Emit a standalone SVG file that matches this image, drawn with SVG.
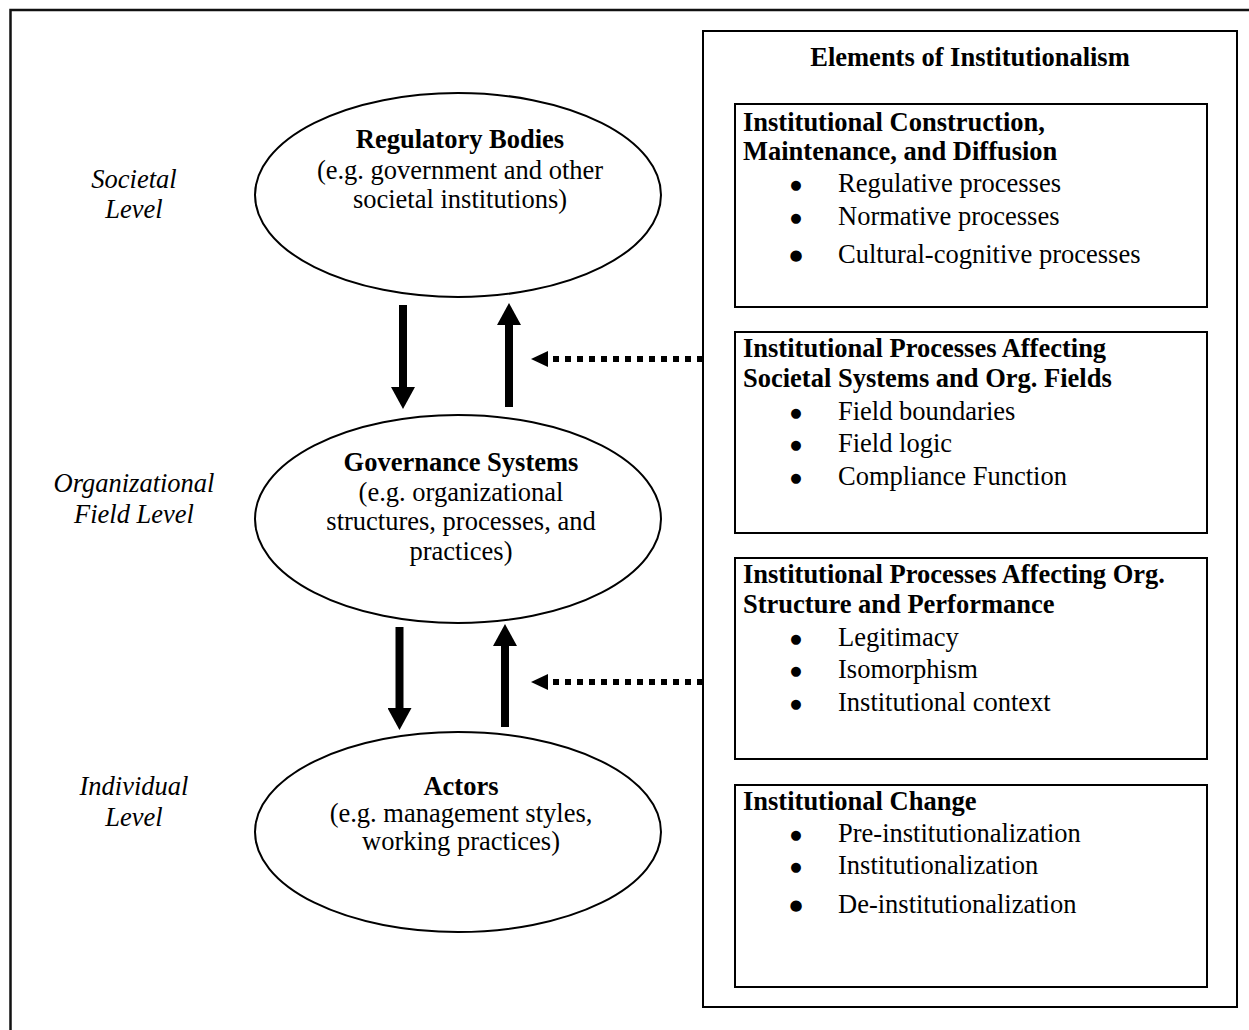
<svg xmlns="http://www.w3.org/2000/svg" width="1249" height="1030" viewBox="0 0 1249 1030">
<style>
text{font-family:"Liberation Serif","Times New Roman",serif;font-size:26.5px;fill:#000}
.b{font-weight:bold}
.i{font-style:italic}
.c{text-anchor:middle}
.bu{font-family:"DejaVu Sans",sans-serif;font-size:13px;text-anchor:middle}
.bu2{font-family:"DejaVu Sans",sans-serif;font-size:15px;text-anchor:middle}
.frame{fill:none;stroke:#111;stroke-width:2.5}
.box{fill:none;stroke:#000;stroke-width:2}
.ell{fill:#fff;stroke:#000;stroke-width:2}
.solid{stroke:#000;stroke-width:8;fill:none}
.dot{stroke:#000;stroke-width:6;stroke-dasharray:6 6;fill:none}
</style>
<defs>
<marker id="ah" markerUnits="userSpaceOnUse" viewBox="0 0 22 24" markerWidth="22" markerHeight="24" refX="0" refY="12" orient="auto"><path d="M0,0 L22,12 L0,24 z" fill="#000"/></marker>
<marker id="ahd" markerUnits="userSpaceOnUse" viewBox="0 0 17 16" markerWidth="17" markerHeight="16" refX="0" refY="8" orient="auto"><path d="M0,0 L17,8 L0,16 z" fill="#000"/></marker>
</defs>
<rect width="1249" height="1030" fill="#fff"/>
<rect class="frame" x="10.5" y="10" width="1300" height="1100"/>

<g id="levels">
<text class="i c" x="134" y="188">Societal</text>
<text class="i c" x="134" y="218">Level</text>
<text class="i c" x="134" y="492">Organizational</text>
<text class="i c" x="134" y="523">Field Level</text>
<text class="i c" x="134" y="795">Individual</text>
<text class="i c" x="134" y="826">Level</text>
</g>

<g id="regulatory">
<ellipse class="ell" cx="458" cy="195" rx="203" ry="102"/>
<text class="b c" x="460" y="148">Regulatory Bodies</text>
<text class="c" x="460" y="179">(e.g. government and other</text>
<text class="c" x="460" y="208">societal institutions)</text>
</g>

<g id="governance">
<ellipse class="ell" cx="458" cy="519" rx="203" ry="104"/>
<text class="b c" x="461" y="471">Governance Systems</text>
<text class="c" x="461" y="501">(e.g. organizational</text>
<text class="c" x="461" y="530">structures, processes, and</text>
<text class="c" x="461" y="560">practices)</text>
</g>

<g id="actors">
<ellipse class="ell" cx="458" cy="832" rx="203" ry="100"/>
<text class="b c" x="461" y="795">Actors</text>
<text class="c" x="461" y="822">(e.g. management styles,</text>
<text class="c" x="461" y="850">working practices)</text>
</g>

<g id="elements">
<rect class="box" x="703" y="31" width="534" height="976"/>
<text class="b c" x="970" y="66">Elements of Institutionalism</text>
</g>

<g id="construction">
<rect class="box" x="735" y="104" width="472" height="203"/>
<text class="b" x="743" y="131">Institutional Construction,</text>
<text class="b" x="743" y="160">Maintenance, and Diffusion</text>
<text class="bu" x="796" y="189">●</text><text x="838" y="192">Regulative processes</text>
<text class="bu" x="796" y="222">●</text><text x="838" y="225">Normative processes</text>
<text class="bu2" x="796" y="260">●</text><text x="838" y="263">Cultural-cognitive processes</text>
</g>

<g id="societal-processes">
<rect class="box" x="735" y="332" width="472" height="201"/>
<text class="b" x="743" y="357">Institutional Processes Affecting</text>
<text class="b" x="743" y="387">Societal Systems and Org. Fields</text>
<text class="bu" x="796" y="417">●</text><text x="838" y="420">Field boundaries</text>
<text class="bu" x="796" y="449">●</text><text x="838" y="452">Field logic</text>
<text class="bu" x="796" y="482">●</text><text x="838" y="485">Compliance Function</text>
</g>

<g id="org-processes">
<rect class="box" x="735" y="558" width="472" height="201"/>
<text class="b" x="743" y="583">Institutional Processes Affecting Org.</text>
<text class="b" x="743" y="613">Structure and Performance</text>
<text class="bu" x="796" y="643">●</text><text x="838" y="646">Legitimacy</text>
<text class="bu" x="796" y="675">●</text><text x="838" y="678">Isomorphism</text>
<text class="bu" x="796" y="708">●</text><text x="838" y="711">Institutional context</text>
</g>

<g id="change">
<rect class="box" x="735" y="785" width="472" height="202"/>
<text class="b" x="743" y="810">Institutional Change</text>
<text class="bu" x="796" y="839">●</text><text x="838" y="842">Pre-institutionalization</text>
<text class="bu" x="796" y="871">●</text><text x="838" y="874">Institutionalization</text>
<text class="bu2" x="796" y="910">●</text><text x="838" y="913">De-institutionalization</text>
</g>

<g id="connectors">
<line class="solid" x1="403" y1="305" x2="403" y2="387" marker-end="url(#ah)"/>
<line class="solid" x1="509" y1="407" x2="509" y2="325" marker-end="url(#ah)"/>
<line class="solid" x1="399.5" y1="627" x2="399.5" y2="708" marker-end="url(#ah)"/>
<line class="solid" x1="505" y1="727" x2="505" y2="646" marker-end="url(#ah)"/>
<line class="dot" x1="703" y1="359" x2="548" y2="359" marker-end="url(#ahd)"/>
<line class="dot" x1="703" y1="682" x2="548" y2="682" marker-end="url(#ahd)"/>
</g>
</svg>
